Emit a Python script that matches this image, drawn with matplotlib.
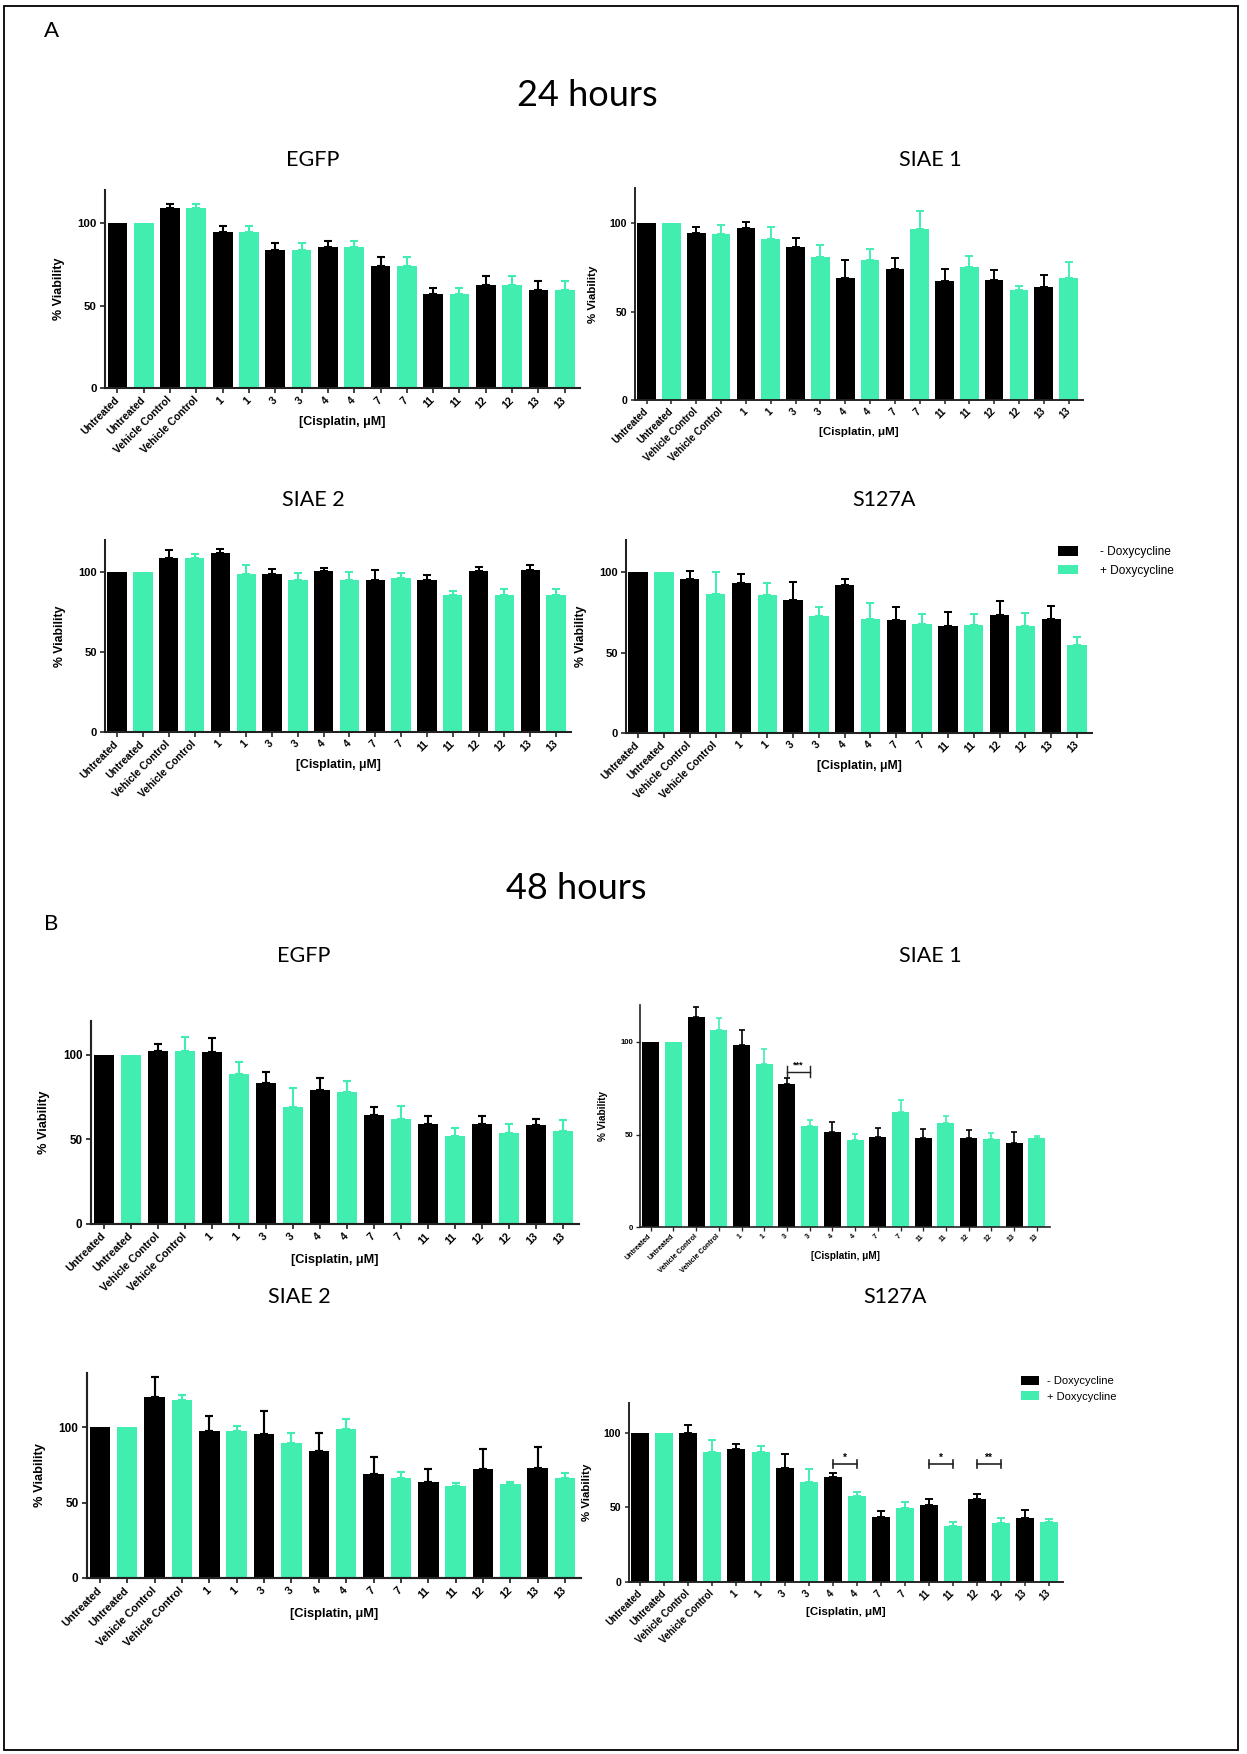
import matplotlib
matplotlib.use("Agg")
import matplotlib.pyplot as plt
from matplotlib.patches import Patch, Rectangle
import numpy as np

W, H = 1247, 1754
DPI = 100

# ---------------------------------------------------------------- data
conditions = ["Untreated", "Untreated", "Vehicle Control", "Vehicle Control",
              "1", "1", "3", "3", "4", "4", "7", "7",
              "11", "11", "12", "12", "13", "13"]
doxycycline = ["-", "+"] * 9          # bars alternate - / + doxycycline

# 24 hours: mean % viability and upper error (SEM)
egfp_24 = [100, 100, 109.1, 109.0, 94.7, 94.7, 83.8, 83.8, 85.7, 85.7,
           74.1, 74.1, 57.2, 57.2, 62.4, 62.4, 59.2, 59.2]
egfp_24_err = [0, 0, 2.6, 2.7, 3.3, 3.3, 3.9, 3.9, 3.4, 3.4,
               5.1, 5.1, 3.4, 3.4, 5.3, 5.3, 5.8, 5.8]

siae1_24 = [100, 100, 94.7, 93.8, 97.5, 91.1, 86.4, 80.9, 68.9, 79.2,
            74.0, 96.6, 67.5, 75.1, 67.7, 62.1, 64.0, 69.2]
siae1_24_err = [0, 0, 3.4, 5.3, 3.3, 6.6, 5.3, 7.0, 10.2, 6.3,
                6.2, 10.6, 6.5, 6.2, 5.7, 2.6, 6.8, 8.9]

siae2_24 = [100, 100, 109.0, 108.5, 111.7, 98.8, 98.5, 94.8, 100.4, 94.8,
            94.8, 96.0, 95.2, 85.6, 100.6, 85.6, 101.3, 85.6]
siae2_24_err = [0, 0, 4.5, 2.8, 2.9, 5.4, 3.4, 4.4, 1.9, 5.0,
                6.2, 3.2, 2.7, 2.7, 2.7, 3.6, 3.1, 3.6]

s127a_24 = [100, 100, 95.6, 86.7, 93.3, 85.9, 82.7, 73.0, 92.1, 71.1,
            70.5, 67.6, 66.5, 67.4, 73.2, 66.3, 70.7, 54.7]
s127a_24_err = [0, 0, 5.4, 13.1, 5.5, 7.2, 11.1, 5.2, 3.7, 10.0,
                8.1, 6.2, 9.0, 6.4, 8.9, 8.3, 8.3, 4.8]

# 48 hours
egfp_48 = [100, 100, 102.2, 102.4, 101.8, 88.8, 83.3, 68.9, 79.3, 78.0,
           64.4, 61.8, 59.4, 52.2, 59.0, 53.5, 58.5, 54.9]
egfp_48_err = [0, 0, 4.1, 8.2, 8.0, 7.1, 6.3, 11.2, 7.1, 6.4,
               4.7, 7.7, 4.6, 4.3, 4.6, 5.4, 3.7, 6.5]

siae1_48 = [100, 100, 113.5, 106.7, 98.4, 88.1, 77.3, 54.8, 51.2, 47.0,
            48.8, 62.0, 48.3, 56.0, 47.9, 47.7, 45.2, 47.9]
siae1_48_err = [0, 0, 5.4, 6.3, 8.1, 8.3, 3.1, 2.9, 5.6, 3.3,
                4.7, 6.5, 4.5, 4.2, 4.7, 3.3, 6.0, 1.5]

siae2_48 = [100, 100, 119.9, 117.9, 97.8, 97.8, 95.4, 89.4, 84.3, 98.7,
            69.3, 66.4, 63.8, 60.9, 72.4, 62.3, 73.1, 66.4]
siae2_48_err = [0, 0, 13.7, 3.3, 9.9, 3.3, 15.2, 6.8, 12.2, 6.8,
                10.8, 3.8, 8.2, 2.2, 13.5, 1.5, 13.7, 3.4]

s127a_48 = [100, 100, 100.0, 86.9, 89.3, 86.9, 76.4, 67.0, 70.2, 57.9,
            43.4, 49.4, 51.4, 37.6, 55.7, 39.4, 42.8, 39.9]
s127a_48_err = [0, 0, 5.1, 8.2, 3.1, 4.4, 9.1, 8.5, 2.9, 2.5,
                4.5, 4.1, 4.1, 2.5, 3.1, 3.4, 5.3, 2.4]

# significance brackets: (bar index a, bar index b, label, bracket height)
siae1_48_sig = [(6, 7, "***", 84)]
s127a_48_sig = [(8, 9, "*", 79), (12, 13, "*", 79), (14, 15, "**", 79)]

legend_labels = ["- Doxycycline", "+ Doxycycline"]

# ---------------------------------------------------------------- style
BLACK = "#000000"
GREEN = "#41EEB0"
bar_colors = [BLACK if d == "-" else GREEN for d in doxycycline]
GP_FONT = ["Liberation Sans", "DejaVu Sans"]
DOC_FONT = ["Lato", "DejaVu Sans"]

fig = plt.figure(figsize=(W / DPI, H / DPI), dpi=DPI)
fig.patch.set_facecolor("white")


def px_rect(left, right, top, bottom):
    return [left / W, 1 - bottom / H, (right - left) / W, (bottom - top) / H]


def draw_panel(box, means, errs, ymax, scale=1.0, tick_scale=None,
               xlab_off=34, sig=None):
    left, right, top, bottom = box
    ax = fig.add_axes(px_rect(left, right, top, bottom))
    ts = scale if tick_scale is None else tick_scale
    x = np.arange(len(means))
    ax.bar(x, means, width=0.75, color=bar_colors, linewidth=0, zorder=2)
    for xi, m, e, c in zip(x, means, errs, bar_colors):
        if e > 0:
            ax.errorbar(xi, m, yerr=[[0], [e]], fmt="none", ecolor=c,
                        elinewidth=1.5 * scale, capsize=3.0 * scale,
                        capthick=1.5 * scale, zorder=1)
    ax.set_xlim(-0.47, 17.58)
    ax.set_ylim(0, ymax)
    ax.set_yticks([0, 50, 100])
    ax.set_yticklabels(["0", "50", "100"], fontfamily=GP_FONT,
                       fontweight="bold", fontsize=8.2 * ts)
    ax.set_xticks(x)
    ax.set_xticklabels(conditions, rotation=45, ha="right", va="center",
                       rotation_mode="anchor", fontfamily=GP_FONT,
                       fontweight="bold", fontsize=7.6 * ts)
    for s in ("top", "right"):
        ax.spines[s].set_visible(False)
    for s in ("left", "bottom"):
        ax.spines[s].set_linewidth(1.5 * scale)
        ax.spines[s].set_color("#222222")
    ax.tick_params(axis="both", direction="out", length=3.5 * scale,
                   width=1.2 * scale, color="#222222", pad=2.5 * scale)
    ax.tick_params(axis="x", pad=4 * scale)
    wpx = right - left
    hpx = bottom - top
    ax.set_ylabel("% Viability", fontfamily=GP_FONT, fontweight="bold",
                  fontsize=9.0 * scale)
    ax.yaxis.set_label_coords(-40 * scale / wpx, 0.5)
    ax.set_xlabel("[Cisplatin, \u03bcM]", fontfamily=GP_FONT,
                  fontweight="bold", fontsize=9.0 * scale)
    ax.xaxis.set_label_coords(0.5, -xlab_off / hpx)
    ax.xaxis.label.set_va("center")
    ax.set_facecolor("none")
    if sig:
        for a, b, lab, h in sig:
            d = 2.8 * 120 / ymax
            ax.plot([a, b], [h, h], color="#222222", lw=1.3 * scale)
            ax.plot([a, a], [h - d, h + d], color="#222222", lw=1.3 * scale)
            ax.plot([b, b], [h - d, h + d], color="#222222", lw=1.3 * scale)
            ax.text((a + b) / 2, h + d * 0.4, lab, ha="center", va="bottom",
                    fontsize=8 * scale, fontweight="bold",
                    fontfamily=GP_FONT)
    return ax


def add_legend(x_px, y_px, fs, hl, tp, ls):
    handles = [Patch(facecolor=BLACK, edgecolor="none"),
               Patch(facecolor=GREEN, edgecolor="none")]
    fig.legend(handles, legend_labels, loc="upper left",
               bbox_to_anchor=(x_px / W, 1 - y_px / H), frameon=False,
               borderpad=0, borderaxespad=0, handlelength=hl,
               handleheight=0.85, handletextpad=tp, labelspacing=ls,
               prop={"family": GP_FONT, "size": fs})


# ---------------------------------------------------------------- panels
draw_panel((105, 580, 190, 388), egfp_24, egfp_24_err, 120, 1.0, xlab_off=34)
draw_panel((635, 1083, 188, 400), siae1_24, siae1_24_err, 120, 0.92, xlab_off=32)
draw_panel((105, 571, 540, 732), siae2_24, siae2_24_err, 120, 0.98, xlab_off=33)
draw_panel((626, 1092, 540, 733), s127a_24, s127a_24_err, 120, 0.98, xlab_off=33)

draw_panel((91, 579, 1021, 1224), egfp_48, egfp_48_err, 120, 1.02, xlab_off=36)
draw_panel((640, 1050, 1005, 1227), siae1_48, siae1_48_err, 120, 0.8,
           tick_scale=0.68, xlab_off=29, sig=siae1_48_sig)
draw_panel((87, 581, 1373, 1578), siae2_48, siae2_48_err, 136, 1.03, xlab_off=36)
draw_panel((629, 1063, 1403, 1582), s127a_48, s127a_48_err, 120, 0.92,
           xlab_off=30, sig=s127a_48_sig)

add_legend(1058, 546, 8.6, 1.65, 1.85, 0.55)
add_legend(1021, 1376, 8.0, 1.6, 0.7, 0.45)

# ---------------------------------------------------------------- headings
def ftext(x_px, y_px, s, size):
    fig.text(x_px / W, 1 - y_px / H, s, ha="center", va="center",
             fontsize=size, fontfamily=DOC_FONT)


ftext(51, 31, "A", 16)
ftext(587, 95, "24 hours", 26)
ftext(51, 924, "B", 16)
ftext(576, 889, "48 hours", 26)

ftext(313, 160, "EGFP", 15.5)
ftext(930, 160, "SIAE 1", 15.5)
ftext(313, 500, "SIAE 2", 15.5)
ftext(884, 500, "S127A", 15.5)
ftext(304, 956, "EGFP", 15.5)
ftext(930, 956, "SIAE 1", 15.5)
ftext(299, 1297, "SIAE 2", 15.5)
ftext(895, 1297, "S127A", 15.5)

# page frame
fig.add_artist(Rectangle((4 / W, 1 - 1750 / H), (1238 - 4) / W, (1750 - 6) / H,
                         transform=fig.transFigure, fill=False,
                         edgecolor="black", linewidth=1.3))

fig.savefig("out.png", dpi=DPI)
